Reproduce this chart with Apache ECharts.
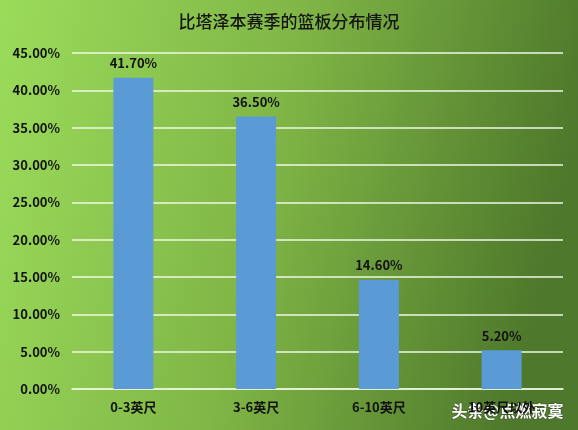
<!DOCTYPE html>
<html>
<head>
<meta charset="utf-8">
<script src="https://cdn.jsdelivr.net/npm/echarts@6/dist/echarts.min.js"></script>
<style>
  html, body { margin: 0; padding: 0; }
  #chart { width: 578px; height: 430px; }
</style>
</head>
<body>
<div id="chart"></div>
<script>
const categories = ['0-3英尺', '3-6英尺', '6-10英尺', '10英尺以外'];
const values = [41.7, 36.5, 14.6, 5.2];
const yTicks = { min: 0, max: 45, interval: 5 };

const chart = echarts.init(document.getElementById('chart'));

const fontFamily = '"Noto Sans CJK SC", "DejaVu Sans", sans-serif';

chart.setOption({
  backgroundColor: new echarts.graphic.LinearGradient(0, 0, 1, 0.3, [
    { offset: 0, color: '#9bdc5b' },
    { offset: 0.5, color: '#80b646' },
    { offset: 1, color: '#4e782b' }
  ]),
  title: {
    text: '比塔泽本赛季的篮板分布情况',
    left: 'center',
    top: 8,
    textStyle: { fontFamily, fontSize: 17, fontWeight: 500, color: '#151515' }
  },
  grid: { left: 72, right: 15, top: 53, bottom: 41, containLabel: false },
  xAxis: {
    type: 'category',
    data: categories,
    axisLine: { lineStyle: { color: '#e8f5dc', width: 1.5 } },
    axisTick: { show: false },
    axisLabel: { color: '#111', fontFamily, fontSize: 13, fontWeight: 'bold', margin: 12 }
  },
  yAxis: {
    type: 'value',
    min: yTicks.min,
    max: yTicks.max,
    interval: yTicks.interval,
    axisLine: { show: false },
    axisTick: { show: false },
    axisLabel: {
      color: '#111', fontFamily, fontSize: 13, fontWeight: 'bold', margin: 12,
      formatter: v => v.toFixed(2) + '%'
    },
    splitLine: { lineStyle: { color: '#eef8e4', width: 1.5 } }
  },
  series: [{
    type: 'bar',
    data: values,
    barWidth: 40,
    itemStyle: { color: '#5b9bd5' },
    label: {
      show: true,
      position: 'top',
      distance: 8,
      color: '#111',
      fontFamily,
      fontSize: 13,
      fontWeight: 'bold',
      formatter: p => p.value.toFixed(2) + '%'
    }
  }],
  graphic: [{
    type: 'text',
    right: 14,
    bottom: 11,
    style: {
      text: '头条@点燃寂寞',
      fill: '#ffffff',
      font: 'bold 16px "Noto Sans CJK SC", sans-serif',
      stroke: 'rgba(40,50,30,0.6)',
      lineWidth: 1,
      shadowColor: 'rgba(0,0,0,0.8)',
      shadowBlur: 2,
      shadowOffsetX: 1,
      shadowOffsetY: 1
    }
  }]
});
</script>
</body>
</html>
